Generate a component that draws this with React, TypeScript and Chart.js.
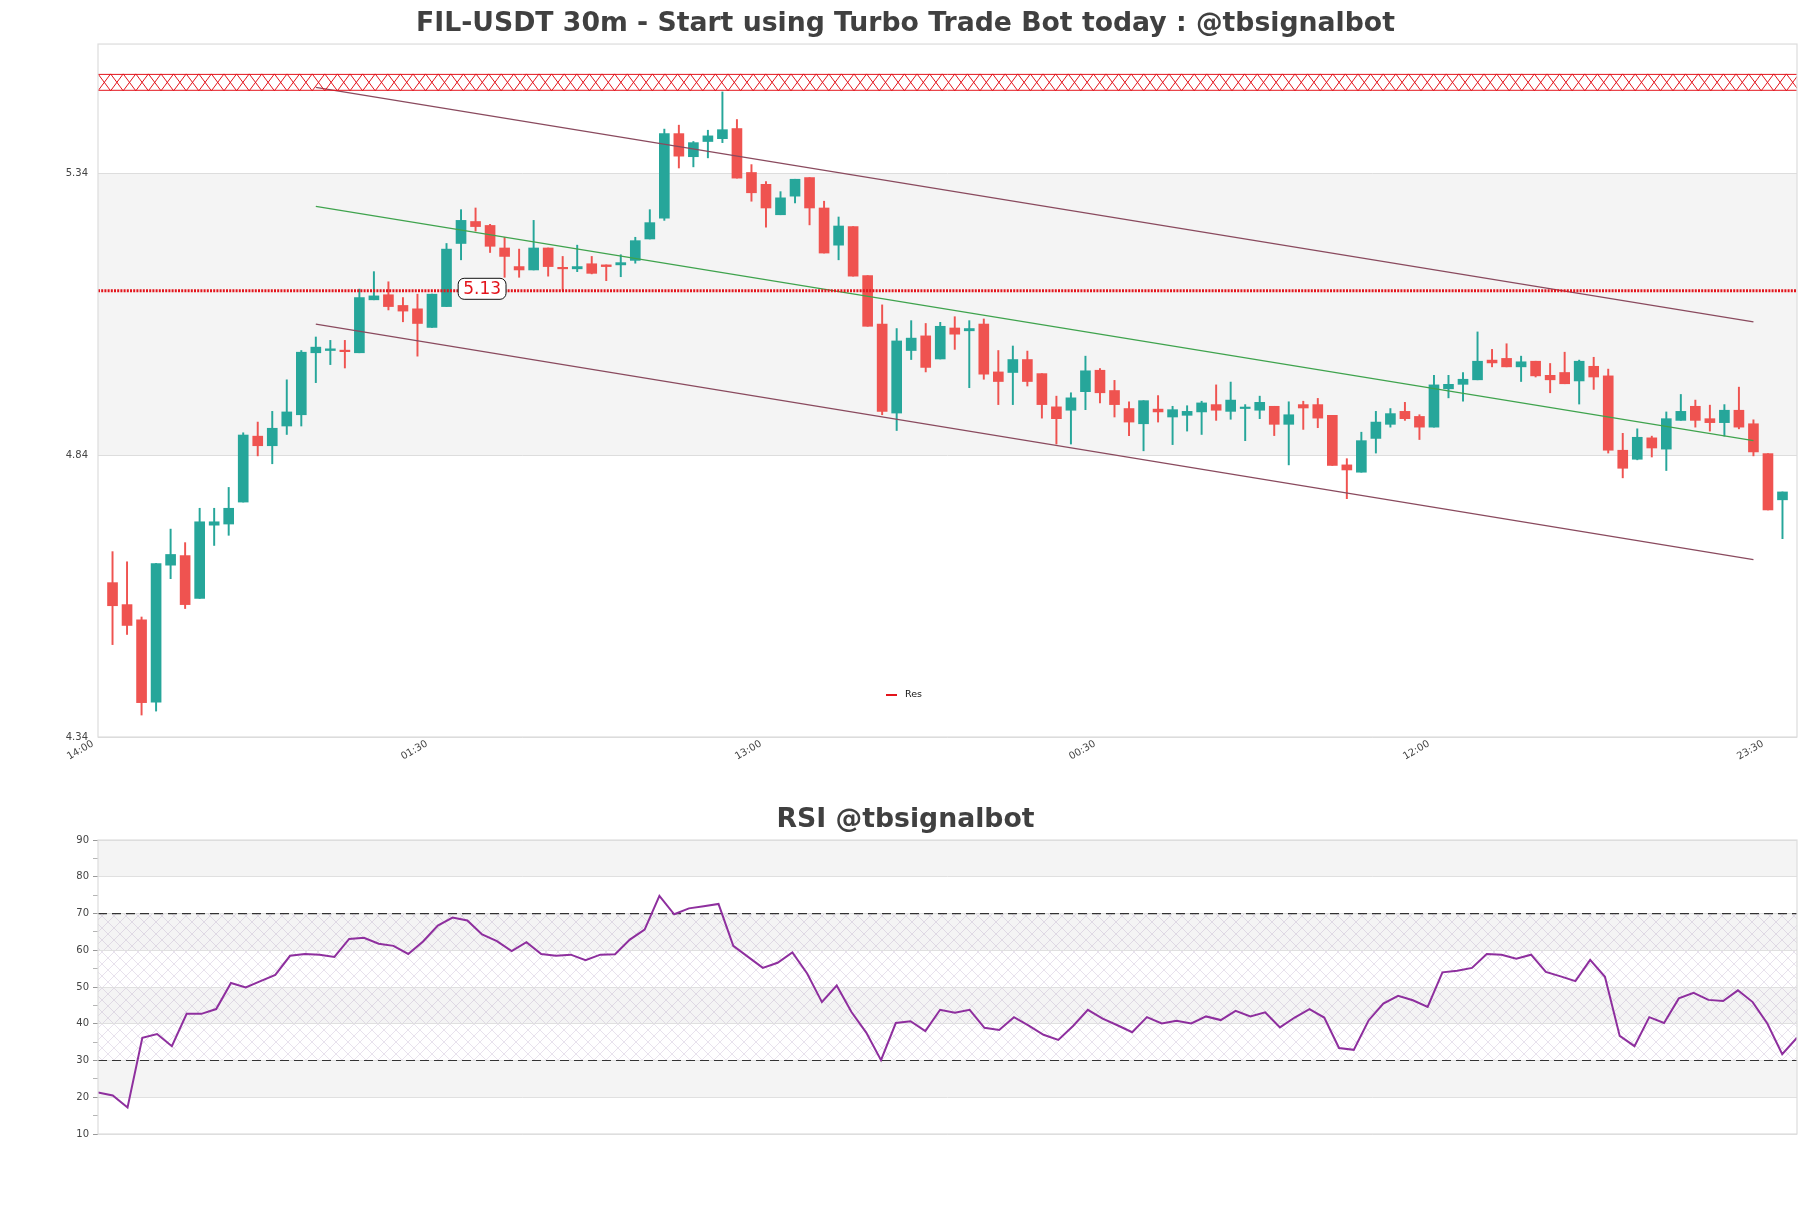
import React, { useEffect, useRef } from 'react';
import { Chart, registerables } from 'chart.js';

Chart.register(...registerables);

// ---------------- Data ----------------
const mainTitle = 'FIL-USDT 30m - Start using Turbo Trade Bot today : @tbsignalbot';
const rsiTitle = 'RSI @tbsignalbot';

const openP = [
  4.614, 4.575, 4.548, 4.402, 4.645, 4.662, 4.586, 4.716, 4.718, 4.757,
  4.874, 4.857, 4.892, 4.912, 5.022, 5.026, 5.026, 5.022, 5.116, 5.125,
  5.106, 5.100, 5.067, 5.104, 5.216, 5.255, 5.248, 5.208, 5.175, 5.169,
  5.208, 5.172, 5.171, 5.180, 5.178, 5.178, 5.186, 5.224, 5.261, 5.411,
  5.370, 5.397, 5.402, 5.420, 5.342, 5.321, 5.267, 5.300, 5.333, 5.279,
  5.213, 5.246, 5.159, 5.073, 4.915, 5.026, 5.052, 5.011, 5.066, 5.061,
  5.073, 4.988, 4.987, 5.010, 4.985, 4.926, 4.920, 4.953, 4.991, 4.955,
  4.923, 4.896, 4.922, 4.908, 4.911, 4.917, 4.930, 4.918, 4.923, 4.920,
  4.927, 4.895, 4.930, 4.930, 4.911, 4.823, 4.810, 4.870, 4.895, 4.918,
  4.909, 4.890, 4.958, 4.966, 4.974, 5.009, 5.012, 4.997, 5.007, 4.982,
  4.987, 4.972, 4.998, 4.981, 4.849, 4.833, 4.871, 4.851, 4.902, 4.927,
  4.905, 4.898, 4.920, 4.896, 4.843, 4.761,
];
const highP = [
  4.669, 4.651, 4.553, 4.648, 4.709, 4.685, 4.746, 4.746, 4.783, 4.880,
  4.899, 4.918, 4.974, 5.026, 5.050, 5.044, 5.044, 5.135, 5.166, 5.148,
  5.120, 5.126, 5.126, 5.216, 5.276, 5.279, 5.250, 5.227, 5.206, 5.257,
  5.208, 5.193, 5.213, 5.193, 5.178, 5.196, 5.227, 5.276, 5.419, 5.426,
  5.397, 5.417, 5.485, 5.436, 5.356, 5.326, 5.308, 5.330, 5.333, 5.291,
  5.263, 5.246, 5.159, 5.107, 5.065, 5.079, 5.074, 5.076, 5.086, 5.079,
  5.082, 5.026, 5.034, 5.025, 4.985, 4.945, 4.951, 5.016, 4.994, 4.973,
  4.935, 4.937, 4.946, 4.927, 4.928, 4.936, 4.965, 4.970, 4.930, 4.945,
  4.927, 4.935, 4.936, 4.941, 4.911, 4.834, 4.881, 4.918, 4.923, 4.934,
  4.912, 4.982, 4.982, 4.987, 5.059, 5.028, 5.038, 5.016, 5.007, 5.003,
  5.023, 5.009, 5.014, 4.993, 4.879, 4.887, 4.874, 4.917, 4.948, 4.938,
  4.929, 4.930, 4.961, 4.903, 4.843, 4.775,
];
const lowP = [
  4.504, 4.522, 4.379, 4.386, 4.621, 4.568, 4.586, 4.680, 4.698, 4.757,
  4.839, 4.825, 4.877, 4.892, 4.969, 5.001, 4.995, 5.022, 5.116, 5.098,
  5.077, 5.016, 5.067, 5.104, 5.187, 5.238, 5.200, 5.156, 5.156, 5.169,
  5.158, 5.133, 5.166, 5.162, 5.150, 5.157, 5.181, 5.224, 5.257, 5.350,
  5.352, 5.368, 5.395, 5.332, 5.291, 5.245, 5.267, 5.288, 5.249, 5.199,
  5.187, 5.158, 5.069, 4.912, 4.884, 5.010, 4.988, 5.011, 5.028, 4.960,
  4.975, 4.930, 4.930, 4.963, 4.906, 4.860, 4.860, 4.921, 4.933, 4.908,
  4.875, 4.848, 4.899, 4.859, 4.883, 4.877, 4.902, 4.904, 4.866, 4.905,
  4.875, 4.823, 4.886, 4.889, 4.822, 4.763, 4.810, 4.844, 4.890, 4.902,
  4.868, 4.890, 4.942, 4.936, 4.974, 4.997, 4.997, 4.971, 4.979, 4.951,
  4.967, 4.931, 4.957, 4.844, 4.800, 4.832, 4.837, 4.813, 4.902, 4.890,
  4.883, 4.874, 4.887, 4.839, 4.743, 4.692,
];
const closeP = [
  4.573, 4.538, 4.401, 4.648, 4.664, 4.575, 4.722, 4.722, 4.746, 4.876,
  4.857, 4.888, 4.917, 5.023, 5.032, 5.029, 5.024, 5.120, 5.123, 5.104,
  5.096, 5.074, 5.126, 5.206, 5.257, 5.246, 5.211, 5.193, 5.169, 5.208,
  5.175, 5.171, 5.175, 5.163, 5.175, 5.182, 5.221, 5.253, 5.411, 5.371,
  5.395, 5.407, 5.418, 5.332, 5.306, 5.279, 5.297, 5.330, 5.279, 5.199,
  5.247, 5.158, 5.069, 4.918, 5.043, 5.048, 4.996, 5.069, 5.055, 5.065,
  4.984, 4.971, 5.010, 4.971, 4.930, 4.905, 4.942, 4.990, 4.951, 4.930,
  4.899, 4.937, 4.917, 4.921, 4.918, 4.933, 4.920, 4.938, 4.925, 4.934,
  4.895, 4.912, 4.924, 4.906, 4.822, 4.814, 4.866, 4.899, 4.914, 4.905,
  4.890, 4.965, 4.966, 4.975, 5.007, 5.004, 4.997, 5.006, 4.981, 4.974,
  4.967, 5.007, 4.979, 4.849, 4.817, 4.872, 4.853, 4.905, 4.918, 4.902,
  4.898, 4.920, 4.890, 4.846, 4.743, 4.775,
];

const xMin = -1;
const xMax = 116;
const xTickPositions = [-1, 22, 45, 68, 91, 114];
const xTickLabels = ['14:00', '01:30', '13:00', '00:30', '12:00', '23:30'];
const yTickValues = [4.34, 4.84, 5.34];
const priceMin = 4.34;
const priceMax = 5.57;
const rangeBand = [4.84, 5.34];
const resistanceZone = [5.487, 5.517];
const resLevel = 5.132;
const resLabelX = 25.45;
const channelX = [14, 113];
const channelUpper = [5.493, 5.077];
const channelMid = [5.282, 4.866];
const channelLower = [5.073, 4.655];

const rsiValues = [
  21.3, 20.5, 17.2, 36.2, 37.2, 33.9, 42.7, 42.7, 44.0, 51.1,
  49.9, 51.6, 53.3, 58.5, 59.0, 58.8, 58.2, 63.1, 63.4, 61.8,
  61.2, 59.0, 62.4, 66.7, 68.9, 68.1, 64.3, 62.5, 59.8, 62.2,
  59.0, 58.5, 58.8, 57.3, 58.8, 58.9, 62.9, 65.6, 74.8, 69.8,
  71.4, 72.0, 72.6, 61.2, 58.2, 55.2, 56.6, 59.4, 53.7, 45.9,
  50.4, 43.2, 37.6, 30.1, 40.2, 40.7, 38.0, 43.8, 43.0, 43.8,
  38.9, 38.3, 41.8, 39.5, 37.0, 35.6, 39.4, 43.8, 41.4, 39.6,
  37.7, 41.8, 40.1, 40.8, 40.1, 42.0, 41.0, 43.5, 42.0, 43.1,
  39.0, 41.7, 44.0, 41.7, 33.4, 32.9, 40.9, 45.5, 47.6, 46.4,
  44.6, 54.0, 54.4, 55.2, 59.0, 58.8, 57.7, 58.8, 54.1, 52.9,
  51.6, 57.4, 52.8, 36.7, 33.9, 41.8, 40.2, 46.9, 48.4, 46.5,
  46.2, 49.1, 45.9, 40.0, 31.7, 36.2,
];
const rsiMin = 10;
const rsiMax = 90;
const rsiBands = [[80, 90], [60, 70], [40, 50], [20, 30]];
const rsiHatch = [30, 70];
const rsiLevels = [30, 70];

// ---------------- Styles ----------------
const FONT = "'DejaVu Sans', sans-serif";
const UP = '#26a69a';
const DOWN = '#ef5350';
const TITLE_COLOR = '#404040';
const TICK_COLOR = '#444444';
const BORDER = '#dcdcdc';

// empty right-hand spacer axis so the title is centred on the full figure
const rightSpacer = {
  type: 'linear',
  position: 'right',
  display: true,
  grid: { display: false, drawTicks: false },
  border: { display: false },
  ticks: { display: false },
  afterFit: (ax: any) => {
    ax.width = 14;
  },
};

function drawBorder(chart: any) {
  const { ctx, chartArea: a } = chart;
  ctx.save();
  ctx.strokeStyle = BORDER;
  ctx.lineWidth = 1.2;
  ctx.strokeRect(a.left, a.top, a.right - a.left, a.bottom - a.top);
  ctx.restore();
}

const mainDecor = {
  id: 'mainDecor',
  beforeDraw(chart: any) {
    const { ctx, chartArea: a, scales } = chart;
    const y = scales.y;
    const yt = y.getPixelForValue(rangeBand[1]);
    const yb = y.getPixelForValue(rangeBand[0]);
    ctx.save();
    ctx.fillStyle = '#f4f4f4';
    ctx.fillRect(a.left, yt, a.right - a.left, yb - yt);
    ctx.restore();
  },
  afterDatasetsDraw(chart: any) {
    const { ctx, chartArea: a, scales } = chart;
    const y = scales.y;
    const zt = y.getPixelForValue(resistanceZone[1]);
    const zb = y.getPixelForValue(resistanceZone[0]);
    ctx.save();
    ctx.beginPath();
    ctx.rect(a.left, zt - 1, a.right - a.left, zb - zt + 2);
    ctx.clip();
    ctx.strokeStyle = '#e3141c';
    ctx.lineWidth = 1;
    const cw = 12.6;
    ctx.beginPath();
    for (let xx = a.left; xx < a.right; xx += cw) {
      ctx.moveTo(xx, zt);
      ctx.lineTo(xx + cw, zb);
      ctx.moveTo(xx, zb);
      ctx.lineTo(xx + cw, zt);
    }
    ctx.moveTo(a.left, zt + 0.5);
    ctx.lineTo(a.right, zt + 0.5);
    ctx.moveTo(a.left, zb - 0.5);
    ctx.lineTo(a.right, zb - 0.5);
    ctx.stroke();
    ctx.restore();
  },
  afterDraw(chart: any) {
    const { ctx, chartArea: a, scales } = chart;
    const x = scales.x;
    const y = scales.y;
    // label box
    const txt = resLevel.toFixed(2);
    ctx.save();
    ctx.font = `17px ${FONT}`;
    const tw = ctx.measureText(txt).width;
    const cx = x.getPixelForValue(resLabelX);
    const cy = y.getPixelForValue(resLevel) - 2;
    const bw = tw + 10;
    const bh = 21;
    ctx.beginPath();
    (ctx as any).roundRect(cx - bw / 2, cy - bh / 2, bw, bh, 6);
    ctx.fillStyle = '#ffffff';
    ctx.fill();
    ctx.strokeStyle = '#111111';
    ctx.lineWidth = 1;
    ctx.stroke();
    ctx.fillStyle = '#e3141c';
    ctx.textAlign = 'center';
    ctx.textBaseline = 'middle';
    ctx.fillText(txt, cx, cy + 1);
    // legend
    const lx = a.left + (a.right - a.left) * 0.4638;
    const ly = a.bottom - 42;
    ctx.strokeStyle = '#e3141c';
    ctx.lineWidth = 2;
    ctx.beginPath();
    ctx.moveTo(lx, ly);
    ctx.lineTo(lx + 11, ly);
    ctx.stroke();
    ctx.fillStyle = '#111111';
    ctx.font = `9.5px ${FONT}`;
    ctx.textAlign = 'left';
    ctx.fillText('Res', lx + 19, ly);
    ctx.restore();
    drawBorder(chart);
  },
};

function makeHatch(): CanvasPattern | string {
  const c = document.createElement('canvas');
  c.width = 12;
  c.height = 12;
  const g = c.getContext('2d');
  if (!g) return 'rgba(0,0,0,0)';
  g.strokeStyle = 'rgba(150,125,175,0.28)';
  g.lineWidth = 0.8;
  g.beginPath();
  g.moveTo(0, 0);
  g.lineTo(12, 12);
  g.moveTo(12, 0);
  g.lineTo(0, 12);
  g.stroke();
  const p = g.createPattern(c, 'repeat');
  return p || 'rgba(0,0,0,0)';
}

const rsiDecor = {
  id: 'rsiDecor',
  beforeDraw(chart: any) {
    const { ctx, chartArea: a, scales } = chart;
    const y = scales.y;
    ctx.save();
    ctx.fillStyle = '#f4f4f4';
    rsiBands.forEach(([lo, hi]) => {
      const t = y.getPixelForValue(hi);
      const b = y.getPixelForValue(lo);
      ctx.fillRect(a.left, t, a.right - a.left, b - t);
    });
    const ht = y.getPixelForValue(rsiHatch[1]);
    const hb = y.getPixelForValue(rsiHatch[0]);
    ctx.fillStyle = makeHatch();
    ctx.fillRect(a.left, ht, a.right - a.left, hb - ht);
    ctx.restore();
  },
  beforeDatasetsDraw(chart: any) {
    const { ctx, chartArea: a, scales } = chart;
    const y = scales.y;
    ctx.save();
    ctx.strokeStyle = '#333333';
    ctx.lineWidth = 1.2;
    ctx.setLineDash([9, 5]);
    rsiLevels.forEach((lv) => {
      const py = y.getPixelForValue(lv);
      ctx.beginPath();
      ctx.moveTo(a.left, py);
      ctx.lineTo(a.right, py);
      ctx.stroke();
    });
    ctx.restore();
  },
  afterDraw(chart: any) {
    drawBorder(chart);
  },
};

export default function App() {
  const mainRef = useRef<HTMLCanvasElement>(null);
  const rsiRef = useRef<HTMLCanvasElement>(null);

  useEffect(() => {
    if (!mainRef.current || !rsiRef.current) return;
    const colors = closeP.map((c, i) => (c >= openP[i] ? UP : DOWN));

    const main = new Chart(mainRef.current, {
      type: 'bar',
      data: {
        datasets: [
          {
            type: 'bar',
            data: lowP.map((l, i) => ({ x: i, y: [l, highP[i]] })) as any,
            backgroundColor: colors,
            barThickness: 1.3,
            grouped: false,
            borderWidth: 0,
            order: 4,
          } as any,
          {
            type: 'bar',
            data: openP.map((o, i) => ({ x: i, y: [o, closeP[i]] })) as any,
            backgroundColor: colors,
            barThickness: 10,
            grouped: false,
            borderWidth: 0,
            minBarLength: 1.5,
            order: 3,
          } as any,
          {
            type: 'line',
            data: channelX.map((cx, k) => ({ x: cx, y: channelUpper[k] })),
            borderColor: '#8a4a5e',
            borderWidth: 1.2,
            pointRadius: 0,
            order: 1,
          } as any,
          {
            type: 'line',
            data: channelX.map((cx, k) => ({ x: cx, y: channelMid[k] })),
            borderColor: '#3fa34d',
            borderWidth: 1.2,
            pointRadius: 0,
            order: 1,
          } as any,
          {
            type: 'line',
            data: channelX.map((cx, k) => ({ x: cx, y: channelLower[k] })),
            borderColor: '#8a4a5e',
            borderWidth: 1.2,
            pointRadius: 0,
            order: 1,
          } as any,
          {
            type: 'line',
            data: [
              { x: xMin, y: resLevel },
              { x: xMax, y: resLevel },
            ],
            borderColor: '#e3141c',
            borderWidth: 3,
            borderDash: [2, 1.2],
            pointRadius: 0,
            order: 0,
          } as any,
        ],
      },
      options: {
        responsive: false,
        animation: false,
        layout: { padding: { left: 0, right: 0, top: 0, bottom: 0 } },
        plugins: {
          legend: { display: false },
          tooltip: { enabled: false },
          title: {
            display: true,
            text: mainTitle,
            color: TITLE_COLOR,
            font: { family: FONT, size: 26.7, weight: 'bold' },
            padding: { top: 8, bottom: 4 },
          },
        },
        scales: {
          x: {
            type: 'linear',
            min: xMin,
            max: xMax,
            offset: false,
            grid: { display: false, drawTicks: false },
            border: { display: false },
            afterBuildTicks: (ax: any) => {
              ax.ticks = xTickPositions.map((v) => ({ value: v }));
            },
            afterFit: (ax: any) => {
              ax.height = 40;
            },
            ticks: {
              autoSkip: false,
              minRotation: 30,
              maxRotation: 30,
              padding: 1,
              labelOffset: -5,
              color: TICK_COLOR,
              font: { family: FONT, size: 10 },
              callback: (v: any) => {
                const k = xTickPositions.indexOf(Number(v));
                return k >= 0 ? xTickLabels[k] : '';
              },
            },
          },
          y: {
            type: 'linear',
            min: priceMin,
            max: priceMax,
            beginAtZero: false,
            afterBuildTicks: (ax: any) => {
              ax.ticks = yTickValues.map((v) => ({ value: v }));
            },
            afterFit: (ax: any) => {
              ax.width = 98;
            },
            grid: { color: '#dddddd', drawTicks: false },
            border: { display: false },
            ticks: {
              padding: 10,
              color: TICK_COLOR,
              font: { family: FONT, size: 10 },
              callback: (v: any) => Number(v).toFixed(2),
            },
          },
          yr: { ...rightSpacer, min: priceMin, max: priceMax },
        },
      } as any,
      plugins: [mainDecor],
    });

    const rsi = new Chart(rsiRef.current, {
      type: 'line',
      data: {
        datasets: [
          {
            data: rsiValues.map((v, i) => ({ x: i, y: v })),
            borderColor: '#8e2f9e',
            borderWidth: 2,
            pointRadius: 0,
            tension: 0,
          },
        ],
      },
      options: {
        responsive: false,
        animation: false,
        layout: { padding: { left: 0, right: 0, top: 0, bottom: 74 } },
        plugins: {
          legend: { display: false },
          tooltip: { enabled: false },
          title: {
            display: true,
            text: rsiTitle,
            color: TITLE_COLOR,
            font: { family: FONT, size: 26.7, weight: 'bold' },
            padding: { top: 14, bottom: 4 },
          },
        },
        scales: {
          x: { type: 'linear', display: false, min: 0, max: rsiValues.length - 1 },
          y: {
            min: rsiMin,
            max: rsiMax,
            afterFit: (ax: any) => {
              ax.width = 98;
            },
            border: { display: false },
            grid: {
              color: (c: any) => (c.tick && c.tick.value % 10 === 0 ? '#e0e0e0' : 'rgba(0,0,0,0)'),
              tickColor: (c: any) => (c.tick && c.tick.value % 10 === 0 ? '#999999' : '#b5b5b5'),
              tickLength: 5,
            },
            ticks: {
              stepSize: 5,
              padding: 4,
              color: TICK_COLOR,
              font: { family: FONT, size: 10 },
              callback: (v: any) => (Number(v) % 10 === 0 ? String(v) : ''),
            },
          },
          yr: { ...rightSpacer, min: rsiMin, max: rsiMax },
        },
      } as any,
      plugins: [rsiDecor],
    });

    return () => {
      main.destroy();
      rsi.destroy();
    };
  }, []);

  return (
    <div style={{ position: 'absolute', left: 0, top: 0, width: 1811, height: 1208, background: '#fff' }}>
      <canvas
        ref={mainRef}
        width={1811}
        height={777}
        style={{ position: 'absolute', left: 0, top: 0, display: 'block' }}
      />
      <canvas
        ref={rsiRef}
        width={1811}
        height={418}
        style={{ position: 'absolute', left: 0, top: 790, display: 'block' }}
      />
    </div>
  );
}
